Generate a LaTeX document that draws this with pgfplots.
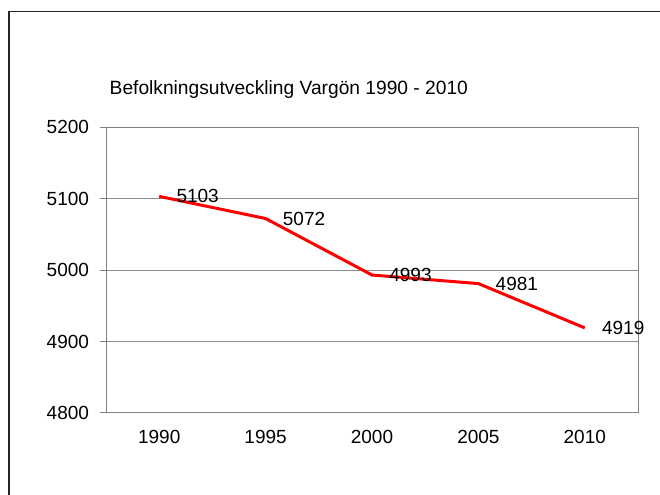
\documentclass[border=0pt]{standalone}
\usepackage{pgfplots}
\pgfplotsset{compat=1.18}
\usepackage{fontspec}
\setmainfont{Liberation Sans}
\definecolor{gridgray}{HTML}{8C8C8C}
\definecolor{axisgray}{HTML}{808080}
\begin{document}
\begin{tikzpicture}
\useasboundingbox (0,0) rectangle (660bp,495bp);
% outer frame (left and top edges only, as in the source)
\draw[line width=1.5bp, black!85] (9bp,0) -- (9bp,483.5bp) -- (660bp,483.5bp);
\node[anchor=base west, inner sep=0, font=\fontsize{19.2bp}{23bp}\selectfont] at (109.5bp,400bp)
  {Befolkningsutveckling Vargön 1990 - 2010};
\begin{axis}[
    at={(106bp,82bp)}, anchor=south west,
    scale only axis, width=532bp, height=286bp,
    xmin=-0.5, xmax=4.5, ymin=4800, ymax=5200,
    xtick={0,1,2,3,4},
    xticklabels={1990,1995,2000,2005,2010},
    major x tick style={draw=none},
    extra x ticks={-0.5,0.5,1.5,2.5,3.5,4.5},
    extra x tick labels={},
    extra x tick style={major tick length=6bp, tick style={axisgray, line width=1bp}},
    ytick={4800,4900,5000,5100,5200},
    ymajorgrids,
    grid style={gridgray, line width=1bp},
    tick align=outside, tick pos=left,
    major tick length=6bp,
    tick style={axisgray, line width=1bp},
    axis line style={axisgray, line width=1bp},
    ticklabel style={font=\fontsize{19bp}{23bp}\selectfont},
    x tick label style={yshift=-8bp},
    y tick label style={xshift=-7.5bp},
    /pgf/number format/1000 sep={},
    /pgf/number format/assume math mode=true,
    nodes near coords,
    every node near coord/.append style={anchor=west, xshift=12.5bp, text=black,
        font=\fontsize{19bp}{23bp}\selectfont},
    clip=false,
]
\addplot[red, line width=3bp, mark=none] coordinates {
    (0,5103) (1,5072) (2,4993) (3,4981) (4,4919)
};
\end{axis}
\end{tikzpicture}
\end{document}
